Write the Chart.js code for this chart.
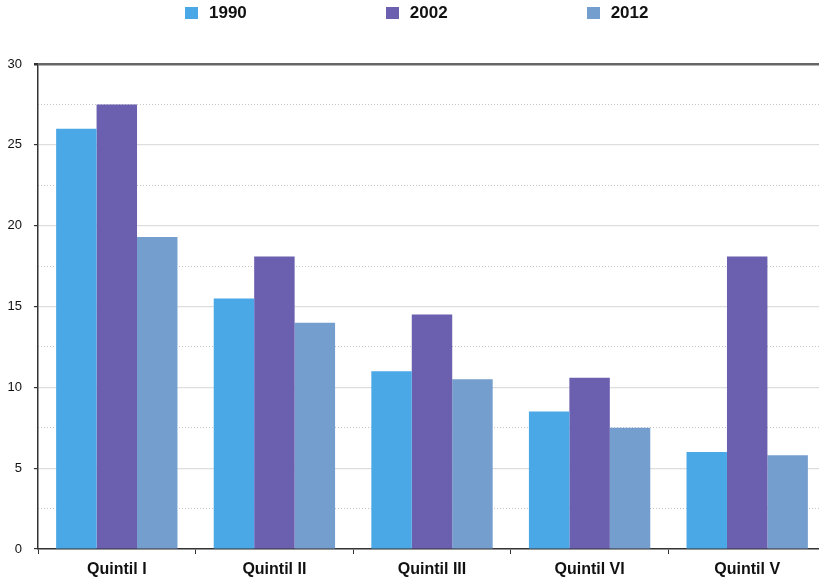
<!DOCTYPE html>
<html>
<head>
<meta charset="utf-8">
<script src="https://cdn.jsdelivr.net/npm/chart.js@4/dist/chart.umd.min.js"></script>
<style>
    body { margin: 0; background: #fff; }
    /* the plot runs a little past the right edge in the original, so the canvas is clipped */
    #wrap { position: relative; width: 819px; height: 581px; overflow: hidden; }
    #legend { position: absolute; top: 2px; left: 185px; display: flex; gap: 139px;
              font-family: "Liberation Sans", Arial, sans-serif; font-weight: bold; font-size: 17px; color: #111; }
    .item { display: flex; align-items: center; height: 22px; }
    .box { width: 13px; height: 12px; margin-right: 11px; }
</style>
</head>
<body>
<div id="wrap">
    <canvas id="quintilChart" width="826" height="581"></canvas>
    <div id="legend"></div>
</div>
<script>
// Values
const categories = ['Quintil I', 'Quintil II', 'Quintil III', 'Quintil VI', 'Quintil V'];
const seriesNames = ['1990', '2002', '2012'];
const values1990 = [26, 15.5, 11, 8.5, 6];
const values2002 = [27.5, 18.1, 14.5, 10.6, 18.1];
const values2012 = [19.3, 14, 10.5, 7.5, 5.8];
const colors = ['#4aa8e6', '#6b5fb0', '#749ecd'];
const yTicks = [0, 5, 10, 15, 20, 25, 30];

window.onload = function() {
    buildLegend();
    renderChart();
};

function buildLegend() {
    const legend = document.getElementById('legend');
    seriesNames.forEach((name, i) => {
        const item = document.createElement('div');
        item.className = 'item';
        item.innerHTML = `<span class="box" style="background:${colors[i]}"></span><span>${name}</span>`;
        legend.appendChild(item);
    });
}

function renderChart() {
    const ctx = document.getElementById('quintilChart').getContext('2d');
    const allValues = [values1990, values2002, values2012];

    new Chart(ctx, {
        type: 'bar',
        data: {
            labels: categories,
            datasets: seriesNames.map((name, i) => ({
                label: name,
                data: allValues[i],
                backgroundColor: colors[i],
                borderWidth: 0,
                categoryPercentage: 0.77,
                barPercentage: 1,
                yAxisID: 'y'
            }))
        },
        options: {
            responsive: false,
            animation: false,
            layout: { padding: { top: 64, left: 0, right: 0, bottom: 0 } },
            plugins: {
                legend: { display: false },
                tooltip: { enabled: false }
            },
            scales: {
                x: {
                    afterFit: (axis) => { axis.height = 32; },
                    grid: {
                        offset: true,
                        drawOnChartArea: false,
                        tickLength: 5,
                        color: '#333'
                    },
                    border: { color: '#333', width: 1.5 },
                    ticks: {
                        color: '#111',
                        padding: 6,
                        font: { family: '"Liberation Sans", Arial, sans-serif', size: 16, weight: 'bold' }
                    }
                },
                // minor dotted gridlines at the half steps
                y2: {
                    position: 'left',
                    min: 0,
                    max: 30,
                    afterBuildTicks: (axis) => {
                        axis.ticks = [];
                        for (let v = 2.5; v < 30; v += 5) axis.ticks.push({ value: v });
                    },
                    afterFit: (axis) => { axis.width = 0; },
                    ticks: { display: false },
                    border: { display: false, dash: [1, 2] },
                    grid: { color: '#c4c4c4', lineWidth: 1, drawTicks: false }
                },
                y: {
                    position: 'left',
                    min: 0,
                    max: 30,
                    afterBuildTicks: (axis) => {
                        axis.ticks = yTicks.map(v => ({ value: v }));
                    },
                    afterFit: (axis) => { axis.width = 38; },
                    ticks: {
                        color: '#111',
                        padding: 12,
                        font: { family: '"Liberation Sans", Arial, sans-serif', size: 13 }
                    },
                    border: { color: '#333', width: 1.5 },
                    grid: {
                        tickLength: 4,
                        color: (c) => c.tick && c.tick.value === 30 ? '#666' : '#ddd',
                        lineWidth: (c) => c.tick && c.tick.value === 30 ? 2.5 : 1.2,
                        tickColor: '#333'
                    }
                }
            }
        }
    });
}
</script>
</body>
</html>
